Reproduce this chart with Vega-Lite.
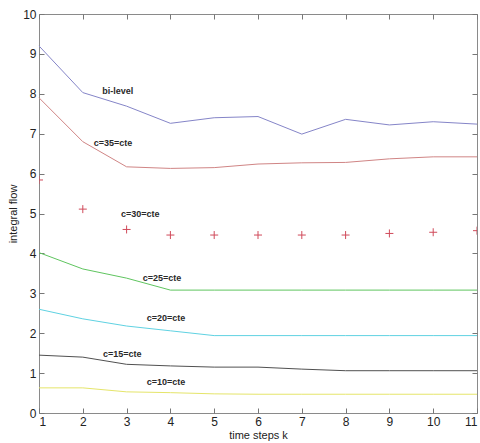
{
  "$schema": "https://vega.github.io/schema/vega-lite/v6.json",
  "width": 438,
  "height": 399,
  "autosize": {"type": "none"},
  "padding": {"left": 39, "top": 14, "right": 3, "bottom": 30},
  "background": "white",
  "config": {
    "view": {"stroke": "#8a8a8a", "strokeWidth": 1},
    "font": "Liberation Sans",
    "axis": {"grid": false, "domain": false, "tickColor": "#777", "tickSize": -5, "labelColor": "#222", "titleColor": "#222", "labelFontSize": 12, "titleFontSize": 11, "titleFontWeight": "normal"}
  },
  "datasets": {
    "lines": [
      {"k": 1, "flow": 9.2, "series": "bi-level"},
      {"k": 2, "flow": 8.03, "series": "bi-level"},
      {"k": 3, "flow": 7.69, "series": "bi-level"},
      {"k": 4, "flow": 7.26, "series": "bi-level"},
      {"k": 5, "flow": 7.4, "series": "bi-level"},
      {"k": 6, "flow": 7.43, "series": "bi-level"},
      {"k": 7, "flow": 6.99, "series": "bi-level"},
      {"k": 8, "flow": 7.36, "series": "bi-level"},
      {"k": 9, "flow": 7.22, "series": "bi-level"},
      {"k": 10, "flow": 7.3, "series": "bi-level"},
      {"k": 11, "flow": 7.24, "series": "bi-level"},
      {"k": 1, "flow": 7.9, "series": "c=35"},
      {"k": 2, "flow": 6.8, "series": "c=35"},
      {"k": 3, "flow": 6.17, "series": "c=35"},
      {"k": 4, "flow": 6.13, "series": "c=35"},
      {"k": 5, "flow": 6.15, "series": "c=35"},
      {"k": 6, "flow": 6.24, "series": "c=35"},
      {"k": 7, "flow": 6.27, "series": "c=35"},
      {"k": 8, "flow": 6.28, "series": "c=35"},
      {"k": 9, "flow": 6.37, "series": "c=35"},
      {"k": 10, "flow": 6.42, "series": "c=35"},
      {"k": 11, "flow": 6.42, "series": "c=35"},
      {"k": 1, "flow": 4.02, "series": "c=25"},
      {"k": 2, "flow": 3.61, "series": "c=25"},
      {"k": 3, "flow": 3.38, "series": "c=25"},
      {"k": 4, "flow": 3.08, "series": "c=25"},
      {"k": 5, "flow": 3.08, "series": "c=25"},
      {"k": 6, "flow": 3.08, "series": "c=25"},
      {"k": 7, "flow": 3.08, "series": "c=25"},
      {"k": 8, "flow": 3.08, "series": "c=25"},
      {"k": 9, "flow": 3.08, "series": "c=25"},
      {"k": 10, "flow": 3.08, "series": "c=25"},
      {"k": 11, "flow": 3.08, "series": "c=25"},
      {"k": 1, "flow": 2.6, "series": "c=20"},
      {"k": 2, "flow": 2.36, "series": "c=20"},
      {"k": 3, "flow": 2.18, "series": "c=20"},
      {"k": 4, "flow": 2.06, "series": "c=20"},
      {"k": 5, "flow": 1.94, "series": "c=20"},
      {"k": 6, "flow": 1.94, "series": "c=20"},
      {"k": 7, "flow": 1.94, "series": "c=20"},
      {"k": 8, "flow": 1.94, "series": "c=20"},
      {"k": 9, "flow": 1.94, "series": "c=20"},
      {"k": 10, "flow": 1.94, "series": "c=20"},
      {"k": 11, "flow": 1.94, "series": "c=20"},
      {"k": 1, "flow": 1.45, "series": "c=15"},
      {"k": 2, "flow": 1.4, "series": "c=15"},
      {"k": 3, "flow": 1.22, "series": "c=15"},
      {"k": 4, "flow": 1.18, "series": "c=15"},
      {"k": 5, "flow": 1.15, "series": "c=15"},
      {"k": 6, "flow": 1.15, "series": "c=15"},
      {"k": 7, "flow": 1.1, "series": "c=15"},
      {"k": 8, "flow": 1.06, "series": "c=15"},
      {"k": 9, "flow": 1.06, "series": "c=15"},
      {"k": 10, "flow": 1.06, "series": "c=15"},
      {"k": 11, "flow": 1.06, "series": "c=15"},
      {"k": 1, "flow": 0.63, "series": "c=10"},
      {"k": 2, "flow": 0.63, "series": "c=10"},
      {"k": 3, "flow": 0.53, "series": "c=10"},
      {"k": 4, "flow": 0.51, "series": "c=10"},
      {"k": 5, "flow": 0.48, "series": "c=10"},
      {"k": 6, "flow": 0.47, "series": "c=10"},
      {"k": 7, "flow": 0.47, "series": "c=10"},
      {"k": 8, "flow": 0.47, "series": "c=10"},
      {"k": 9, "flow": 0.47, "series": "c=10"},
      {"k": 10, "flow": 0.47, "series": "c=10"},
      {"k": 11, "flow": 0.47, "series": "c=10"}
    ],
    "marks": [
      {"k": 1, "flow": 5.84},
      {"k": 2, "flow": 5.11},
      {"k": 3, "flow": 4.6},
      {"k": 4, "flow": 4.46},
      {"k": 5, "flow": 4.46},
      {"k": 6, "flow": 4.46},
      {"k": 7, "flow": 4.46},
      {"k": 8, "flow": 4.46},
      {"k": 9, "flow": 4.5},
      {"k": 10, "flow": 4.53},
      {"k": 11, "flow": 4.57}
    ],
    "labels": [
      {"k": 2.8, "flow": 8.07, "label": "bi-level"},
      {"k": 2.69, "flow": 6.77, "label": "c=35=cte"},
      {"k": 3.31, "flow": 4.99, "label": "c=30=cte"},
      {"k": 3.81, "flow": 3.38, "label": "c=25=cte"},
      {"k": 3.9, "flow": 2.38, "label": "c=20=cte"},
      {"k": 2.9, "flow": 1.48, "label": "c=15=cte"},
      {"k": 3.9, "flow": 0.78, "label": "c=10=cte"}
    ]
  },
  "layer": [
    {
      "data": {"name": "lines"},
      "mark": {"type": "line", "strokeWidth": 1},
      "encoding": {
        "x": {"field": "k", "type": "quantitative", "scale": {"domain": [1, 11], "nice": false}, "axis": {"orient": "bottom", "values": [1,2,3,4,5,6,7,8,9,10,11], "title": "time steps k", "labelPadding": 8, "titlePadding": 2}},
        "y": {"field": "flow", "type": "quantitative", "scale": {"domain": [0, 10], "nice": false}, "axis": {"orient": "left", "values": [0,1,2,3,4,5,6,7,8,9,10], "title": "integral flow", "labelPadding": 8, "titlePadding": 4}},
        "color": {"field": "series", "type": "nominal", "legend": null, "scale": {"domain": ["bi-level", "c=35", "c=25", "c=20", "c=15", "c=10"], "range": ["#8585c8", "#d08585", "#5fc55f", "#5fd2e2", "#505050", "#e5e56a"]}}
      }
    },
    {
      "data": {"name": "marks"},
      "mark": {"type": "point", "shape": "M-1,0L1,0M0,-1L0,1", "size": 64, "filled": false, "stroke": "#d04a5a", "strokeWidth": 1, "opacity": 1, "clip": true},
      "encoding": {
        "x": {"field": "k", "type": "quantitative", "axis": {"orient": "top", "values": [1,2,3,4,5,6,7,8,9,10,11], "labels": false, "title": null}},
        "y": {"field": "flow", "type": "quantitative", "axis": {"orient": "right", "values": [0,1,2,3,4,5,6,7,8,9,10], "labels": false, "title": null}}
      }
    },
    {
      "data": {"name": "labels"},
      "mark": {"type": "text", "fontSize": 9, "fontWeight": "bold", "color": "#2a2a2a", "font": "Liberation Sans"},
      "encoding": {
        "x": {"field": "k", "type": "quantitative", "axis": null},
        "y": {"field": "flow", "type": "quantitative", "axis": null},
        "text": {"field": "label"}
      }
    }
  ],
  "resolve": {"axis": {"x": "independent", "y": "independent"}}
}
